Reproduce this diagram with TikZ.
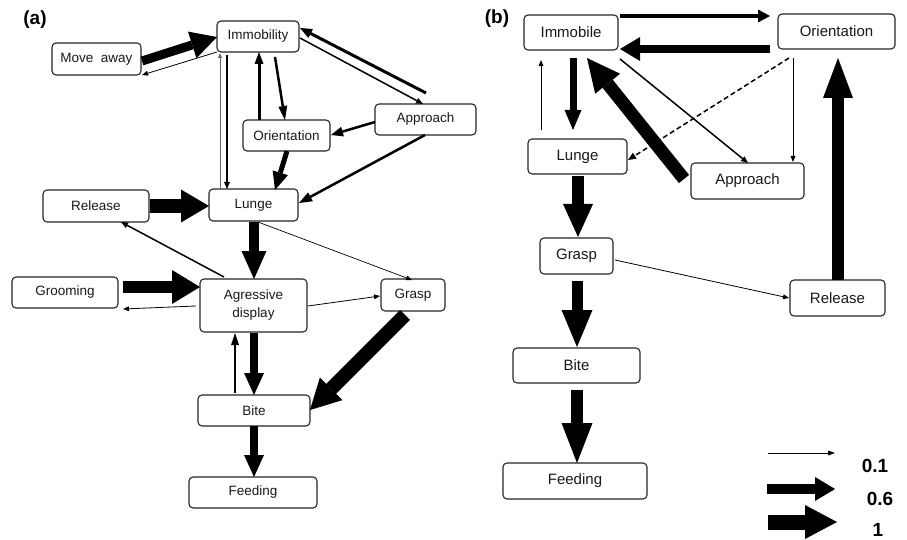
\documentclass[tikz,border=0pt]{standalone}
\usepackage{fontspec}
\setmainfont{Liberation Sans}
\usetikzlibrary{arrows.meta}
\begin{document}
\begin{tikzpicture}[x=1pt,y=-1pt,
  box/.style 2 args={draw=black!85, rounded corners=4pt, line width=1.1pt, minimum width=#1pt, minimum height=#2pt, inner sep=0pt, align=center, text=black!90},
  fa/.style={font=\fontsize{13.5}{18}\selectfont},
  fb/.style={font=\fontsize{15}{18}\selectfont},
  harrow/.style n args={3}{line width=#1pt, -{Triangle[width=#2pt,length=#3pt,line width=0pt]}},
  lbl/.style={font=\bfseries\fontsize{19}{20}\selectfont, inner sep=0pt}
]
\fill[white] (0,0) rectangle (907,540);
\useasboundingbox (0,0) rectangle (907,540);

% ---------- panel (a) ----------
\node[lbl] (la) at (35,20) {(a)};
\node[box={82}{31},fa] (imm) at (258,36.5) {Immobility};
\node[box={89}{32},fa] (mov) at (96.5,59) {Move\ \ away};
\node[box={101}{31},fa] (app) at (425.5,119.5) {Approach};
\node[box={87}{31},fa] (ori) at (286.5,135.5) {Orientation};
\node[box={89}{32},fa] (lun) at (253.5,205) {Lunge};
\node[box={106}{32},fa] (rel) at (96,206) {Release};
\node[box={106}{31},fa] (gro) at (65,292.5) {Grooming};
\node[box={107}{53},fa] (agr) at (253.5,305.5) {Agressive\\display};
\node[box={64}{32},fa] (gra) at (413,295) {Grasp};
\node[box={112}{31},fa] (bit) at (254,410.5) {Bite};
\node[box={128}{31},fa] (fee) at (253,492.5) {Feeding};

\draw[harrow={9}{28}{26}] ([shift={(45.5,2)}]mov.center) -- ([shift={(-41,0.5)}]imm.center);
\draw[harrow={0.8}{5}{6}] ([shift={(-41,15.5)}]imm.center) -- ([shift={(45.5,16)}]mov.center);
\draw[harrow={0.7}{4}{5}, black!60] ([shift={(-33.5,-16)}]lun.center) -- ([shift={(-38,16.5)}]imm.center);
\draw[harrow={1.5}{6}{7}] ([shift={(-31,18.5)}]imm.center) -- ([shift={(-26.5,-16)}]lun.center);
\draw[harrow={3}{9}{12}] ([shift={(-27.5,-15.5)}]ori.center) -- ([shift={(1,15.5)}]imm.center);
\draw[harrow={2.5}{9}{14}] ([shift={(17,20.5)}]imm.center) -- ([shift={(-1.5,-15.5)}]ori.center);
\draw[harrow={3}{10}{12}] ([shift={(0.5,-26.5)}]app.center) -- ([shift={(42,-8.5)}]imm.center);
\draw[harrow={1.5}{6}{7}] ([shift={(42,1.5)}]imm.center) -- ([shift={(-2.5,-15.5)}]app.center);
\draw[harrow={2.5}{10}{12}] ([shift={(-50.5,2.5)}]app.center) -- ([shift={(44.5,-0.5)}]ori.center);
\draw[harrow={2.5}{10}{13}] ([shift={(-0.5,15.5)}]app.center) -- ([shift={(45.5,-2)}]lun.center);
\draw[harrow={5}{16}{18}] ([shift={(0.5,15.5)}]ori.center) -- ([shift={(21.5,-15)}]lun.center);
\draw[harrow={14}{33}{28}] ([shift={(54,0)}]rel.center) -- ([shift={(-44.5,1)}]lun.center);
\draw[harrow={10}{25}{28}] ([shift={(0.5,17)}]lun.center) -- ([shift={(0.5,-26.5)}]agr.center);
\draw[harrow={0.7}{5}{6}] ([shift={(4.5,17)}]lun.center) -- ([shift={(-1,-15)}]gra.center);
\draw[harrow={1.5}{6}{7}] ([shift={(-29.5,-28.5)}]agr.center) -- ([shift={(25,16)}]rel.center);
\draw[harrow={12}{34}{28}] ([shift={(58,-5.5)}]gro.center) -- ([shift={(-53.5,-18.5)}]agr.center);
\draw[harrow={0.8}{5}{6}] ([shift={(-57.5,0.5)}]agr.center) -- ([shift={(58,16.5)}]gro.center);
\draw[harrow={0.8}{5}{6}] ([shift={(54.5,0.5)}]agr.center) -- ([shift={(-33,1)}]gra.center);
\draw[harrow={14}{32}{30}] ([shift={(-8,20)}]gra.center) -- ([shift={(56,-0.5)}]bit.center);
\draw[harrow={8}{20}{22}] ([shift={(0.5,27.5)}]agr.center) -- ([shift={(0,-15.5)}]bit.center);
\draw[harrow={2.5}{8}{12}] ([shift={(-19,-17.5)}]bit.center) -- ([shift={(-18.5,27.5)}]agr.center);
\draw[harrow={8}{20}{22}] ([shift={(0,15.5)}]bit.center) -- ([shift={(1,-15.5)}]fee.center);

% ---------- panel (b) ----------
\node[lbl] (lb) at (497,19) {(b)};
\node[box={94}{35},fb] (bimm) at (571,32.5) {Immobile};
\node[box={117}{35},fb] (bori) at (836.5,31.5) {Orientation};
\node[box={99}{35},fb] (blun) at (577.5,156.5) {Lunge};
\node[box={113}{36},fb] (bapp) at (747.5,181) {Approach};
\node[box={73}{36},fb] (bgra) at (576.5,256) {Grasp};
\node[box={95}{36},fb] (brel) at (837.5,298) {Release};
\node[box={127}{35},fb] (bbit) at (576.5,365.5) {Bite};
\node[box={144}{36},fb] (bfee) at (575,481) {Feeding};

\draw[harrow={4}{13}{12}] ([shift={(49,-16.5)}]bimm.center) -- ([shift={(-66.5,-15.5)}]bori.center);
\draw[harrow={8}{24}{20}] ([shift={(-66.5,17.5)}]bori.center) -- ([shift={(49,16.5)}]bimm.center);
\draw[harrow={7}{17}{20}] ([shift={(2,25.5)}]bimm.center) -- ([shift={(-4.5,-26.5)}]blun.center);
\draw[harrow={1}{5}{6}] ([shift={(-36.5,-26.5)}]blun.center) -- ([shift={(-30,27.5)}]bimm.center);
\draw[harrow={13}{32}{33}] ([shift={(-63.5,-2)}]bapp.center) -- ([shift={(16,25.5)}]bimm.center);
\draw[harrow={1.5}{6}{7}] ([shift={(49,26.5)}]bimm.center) -- ([shift={(0.5,-18)}]bapp.center);
\draw[harrow={1.5}{7}{8}, dash pattern=on 5pt off 3pt] ([shift={(-47.5,26.5)}]bori.center) -- ([shift={(50.5,3.5)}]blun.center);
\draw[harrow={1}{5}{6}] ([shift={(-43.5,26.5)}]bori.center) -- ([shift={(45.5,-19)}]bapp.center);
\draw[harrow={12}{30}{40}] ([shift={(0.5,-18)}]brel.center) -- ([shift={(1.5,26.5)}]bori.center);
\draw[harrow={12}{30}{33}] ([shift={(0.5,19.5)}]blun.center) -- ([shift={(1.5,-19)}]bgra.center);
\draw[harrow={0.8}{5}{6}] ([shift={(38.5,4)}]bgra.center) -- ([shift={(-48.5,0)}]brel.center);
\draw[harrow={11}{31}{37}] ([shift={(0.5,25)}]bgra.center) -- ([shift={(0.5,-18.5)}]bbit.center);
\draw[harrow={12}{31}{40}] ([shift={(0.5,24.5)}]bbit.center) -- ([shift={(2,-18)}]bfee.center);

% ---------- legend ----------
\coordinate (l1s) at (768,453); \coordinate (l1e) at (835,453);
\coordinate (l2s) at (767,489); \coordinate (l2e) at (835,489);
\coordinate (l3s) at (768,522); \coordinate (l3e) at (837,522);
\draw[harrow={1}{5}{7}] (l1s) -- (l1e);
\draw[harrow={10}{24}{20}] (l2s) -- (l2e);
\draw[harrow={15}{34}{32}] (l3s) -- (l3e);
\node[lbl] (v1) at (875,466) {0.1};
\node[lbl] (v2) at (880,499) {0.6};
\node[lbl] (v3) at (878,530) {1};
\end{tikzpicture}
\end{document}
